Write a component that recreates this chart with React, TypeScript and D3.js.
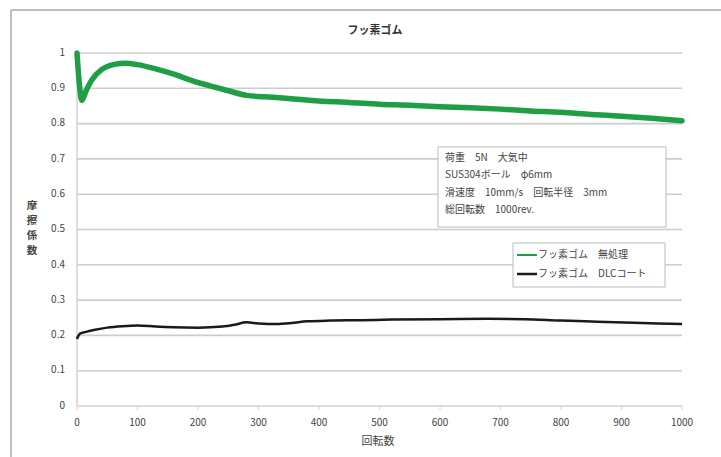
import React, { useEffect, useRef } from 'react';
import * as d3 from 'd3';

// 無処理 (green)
const greenRev = [0, 3, 8, 15, 25, 40, 60, 80, 100, 130, 160, 190, 220, 250, 280, 310, 350, 400, 450, 500, 550, 600, 650, 700, 750, 800, 850, 900, 950, 1000];
const greenMu = [1.0, 0.93, 0.866, 0.893, 0.925, 0.952, 0.967, 0.971, 0.967, 0.955, 0.94, 0.922, 0.907, 0.893, 0.88, 0.876, 0.871, 0.864, 0.86, 0.855, 0.852, 0.848, 0.845, 0.841, 0.836, 0.832, 0.826, 0.821, 0.815, 0.808];

// DLCコート (black)
const blackRev = [0, 5, 15, 30, 50, 75, 100, 130, 160, 200, 240, 260, 280, 300, 330, 355, 380, 420, 470, 520, 600, 680, 740, 800, 860, 920, 1000];
const blackMu = [0.19, 0.205, 0.21, 0.216, 0.222, 0.226, 0.228, 0.225, 0.223, 0.222, 0.225, 0.23, 0.237, 0.234, 0.232, 0.235, 0.24, 0.242, 0.243, 0.245, 0.246, 0.247, 0.246, 0.242, 0.239, 0.236, 0.232];

const yTicks = [0, 0.1, 0.2, 0.3, 0.4, 0.5, 0.6, 0.7, 0.8, 0.9, 1];
const xTicks = [0, 100, 200, 300, 400, 500, 600, 700, 800, 900, 1000];

const seriesNames = ['フッ素ゴム　無処理', 'フッ素ゴム　DLCコート'];
const seriesColors = ['#1f9e45', '#1a1a1a'];
const noteLines = ['荷重　5N　大気中', 'SUS304ボール　φ6mm', '滑速度　10mm/s　回転半径　3mm', '総回転数　1000rev.'];

const FONT = '"Noto Sans CJK JP", "Noto Sans", sans-serif';

const App: React.FC = () => {
    const svgRef = useRef<SVGSVGElement>(null);

    useEffect(() => {
        if (!svgRef.current) return;
        const svg = d3.select(svgRef.current);
        svg.selectAll('*').remove();

        const width = 721;
        const height = 457;
        const margin = { top: 53, right: 39, bottom: 51, left: 77 };

        const x = d3.scaleLinear().domain([0, 1000]).range([margin.left, width - margin.right]);
        const y = d3.scaleLinear().domain([0, 1]).range([height - margin.bottom, margin.top]);

        svg.append('rect').attr('width', width).attr('height', height).attr('fill', '#fff');

        // outer frame
        svg.append('line').attr('x1', 11).attr('x2', 11).attr('y1', 10).attr('y2', height)
            .attr('stroke', '#a8a8a8').attr('stroke-width', 1.5);
        svg.append('line').attr('x1', 11).attr('x2', width).attr('y1', 10).attr('y2', 10)
            .attr('stroke', '#a8a8a8').attr('stroke-width', 1.5);

        // gridlines
        svg.append('g').selectAll('line')
            .data(yTicks.filter(d => d > 0))
            .enter().append('line')
            .attr('x1', x(0)).attr('x2', x(1000))
            .attr('y1', d => y(d)).attr('y2', d => y(d))
            .attr('stroke', '#cccccc').attr('stroke-width', 1.6);

        // axes
        svg.append('line').attr('x1', x(0)).attr('x2', x(0)).attr('y1', y(1)).attr('y2', y(0))
            .attr('stroke', '#d2d2d2').attr('stroke-width', 1.5);
        svg.append('line').attr('x1', x(0)).attr('x2', x(1000)).attr('y1', y(0)).attr('y2', y(0))
            .attr('stroke', '#d2d2d2').attr('stroke-width', 1.5);
        svg.append('g').selectAll('line')
            .data(xTicks)
            .enter().append('line')
            .attr('x1', d => x(d)).attr('x2', d => x(d))
            .attr('y1', y(0)).attr('y2', y(0) + 4)
            .attr('stroke', '#d2d2d2').attr('stroke-width', 1);

        // tick labels
        svg.append('g').selectAll('text')
            .data(yTicks)
            .enter().append('text')
            .attr('x', 65).attr('y', d => y(d))
            .attr('text-anchor', 'end').attr('dominant-baseline', 'middle')
            .attr('font-family', FONT).attr('font-size', 10).attr('fill', '#444')
            .text(d => d3.format('~g')(d));
        svg.append('g').selectAll('text')
            .data(xTicks)
            .enter().append('text')
            .attr('x', d => x(d)).attr('y', 423)
            .attr('text-anchor', 'middle').attr('dominant-baseline', 'middle')
            .attr('font-family', FONT).attr('font-size', 10).attr('fill', '#444')
            .text(d => d);

        // title and axis labels
        svg.append('text').attr('x', 375).attr('y', 31)
            .attr('text-anchor', 'middle').attr('dominant-baseline', 'middle')
            .attr('font-family', FONT).attr('font-size', 11).attr('font-weight', 'bold').attr('fill', '#333')
            .text('フッ素ゴム');
        svg.append('text').attr('x', 378).attr('y', 442)
            .attr('text-anchor', 'middle').attr('dominant-baseline', 'middle')
            .attr('font-family', FONT).attr('font-size', 11).attr('fill', '#444')
            .text('回転数');
        const yLabel = '摩擦係数'.split('');
        svg.append('g').selectAll('text')
            .data(yLabel)
            .enter().append('text')
            .attr('x', 32).attr('y', (_, i) => 206 + i * 15)
            .attr('text-anchor', 'middle').attr('dominant-baseline', 'middle')
            .attr('font-family', FONT).attr('font-size', 10.5).attr('font-weight', 'bold').attr('fill', '#444')
            .text(d => d);

        // series
        const line = d3.line<[number, number]>()
            .x(d => x(d[0]))
            .y(d => y(d[1]))
            .curve(d3.curveMonotoneX);
        const greenData = greenRev.map((r, i) => [r, greenMu[i]] as [number, number]);
        const blackData = blackRev.map((r, i) => [r, blackMu[i]] as [number, number]);

        svg.append('path').datum(greenData).attr('d', line)
            .attr('fill', 'none').attr('stroke', seriesColors[0]).attr('stroke-width', 5.5)
            .attr('stroke-linejoin', 'round').attr('stroke-linecap', 'round');
        svg.append('path').datum(blackData).attr('d', line)
            .attr('fill', 'none').attr('stroke', seriesColors[1]).attr('stroke-width', 2.5)
            .attr('stroke-linejoin', 'round');

        // note box
        const note = svg.append('g');
        note.append('rect').attr('x', 438).attr('y', 147).attr('width', 228).attr('height', 80)
            .attr('fill', '#fff').attr('stroke', '#b8bcc8').attr('stroke-width', 1);
        note.selectAll('text')
            .data(noteLines)
            .enter().append('text')
            .attr('x', 445).attr('y', (_, i) => 158 + i * 17.5)
            .attr('dominant-baseline', 'middle')
            .attr('font-family', FONT).attr('font-size', 10).attr('fill', '#444')
            .text(d => d);

        // legend
        const legend = svg.append('g');
        legend.append('rect').attr('x', 513).attr('y', 243).attr('width', 152).attr('height', 44)
            .attr('fill', '#fff').attr('stroke', '#b8bcc8').attr('stroke-width', 1);
        const items = legend.selectAll('g.item')
            .data(seriesNames)
            .enter().append('g').attr('class', 'item')
            .attr('transform', (_, i) => `translate(517, ${255 + i * 19})`);
        items.append('line').attr('x1', 0).attr('x2', 20).attr('y1', 0).attr('y2', 0)
            .attr('stroke', (_, i) => seriesColors[i]).attr('stroke-width', (_, i) => (i === 0 ? 2 : 2.5));
        items.append('text').attr('x', 21).attr('y', 0)
            .attr('dominant-baseline', 'middle')
            .attr('font-family', FONT).attr('font-size', 10).attr('fill', '#444')
            .text(d => d);
    }, []);

    return (
        <div style={{ position: 'absolute', left: 0, top: 0 }}>
            <svg ref={svgRef} width={721} height={457} style={{ display: 'block' }}></svg>
        </div>
    );
};

export default App;
